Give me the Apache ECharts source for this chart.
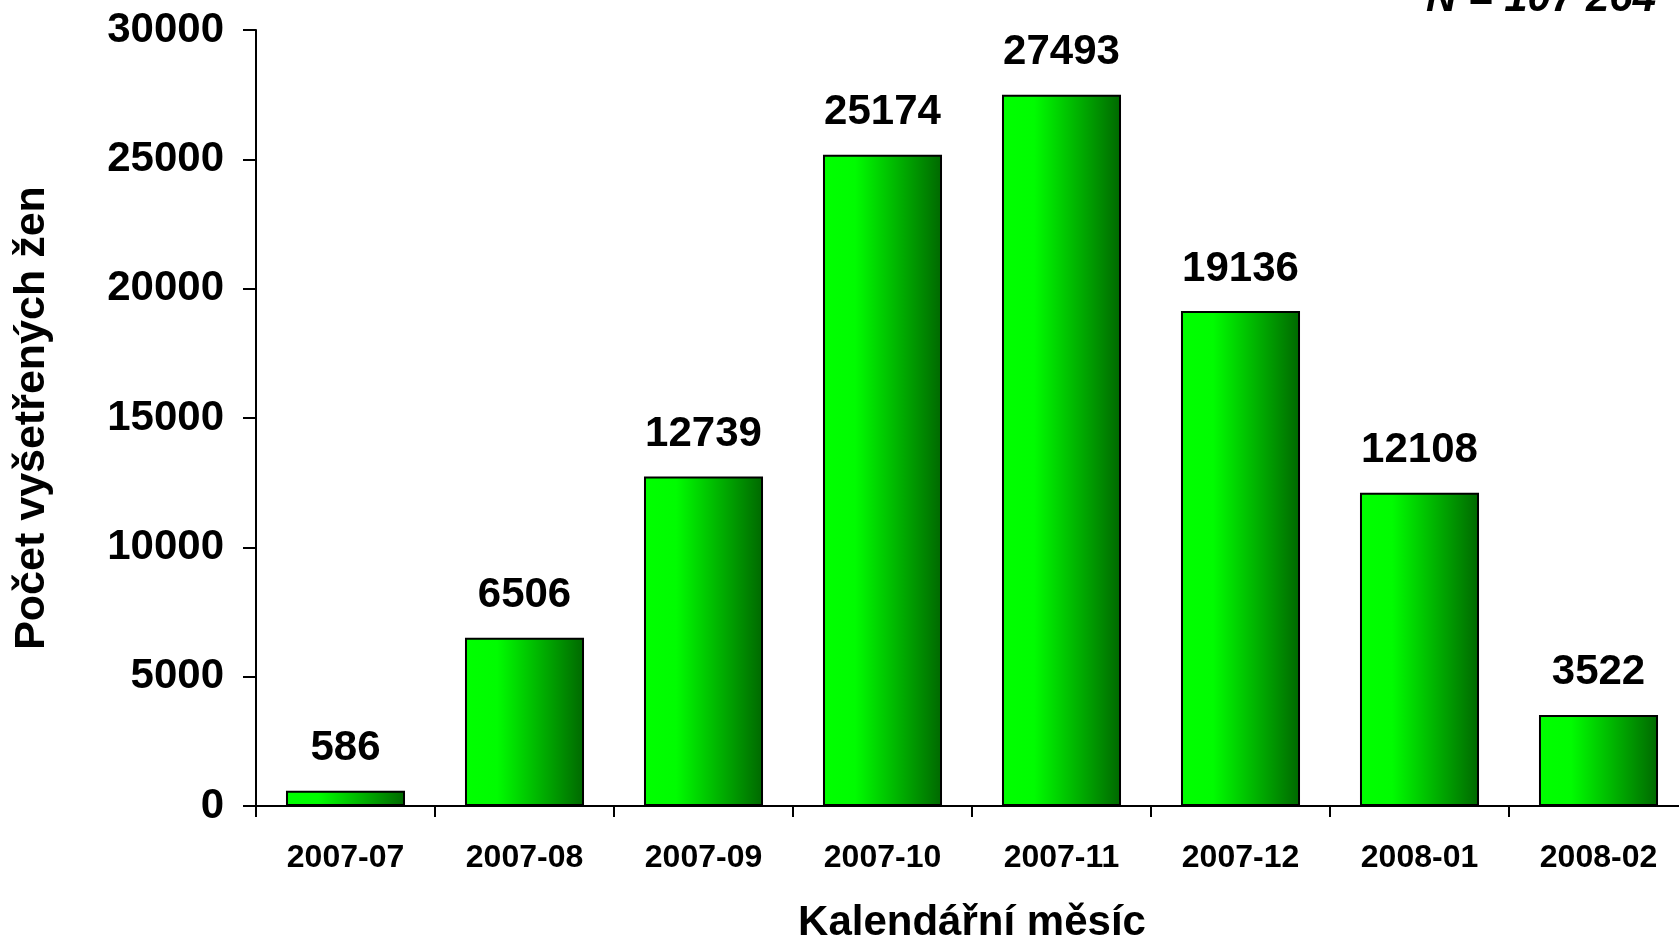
<!DOCTYPE html>
<html>
<head>
<meta charset="utf-8">
<script src="https://cdn.jsdelivr.net/npm/echarts@6/dist/echarts.min.js"></script>
<style>html,body{margin:0;padding:0;background:#fff}#c{width:1679px;height:940px}</style>
</head>
<body>
<div id="c"></div>
<script>
const categories = ['2007-07','2007-08','2007-09','2007-10','2007-11','2007-12','2008-01','2008-02'];
const values = [586, 6506, 12739, 25174, 27493, 19136, 12108, 3522];
const yTicks = [0, 5000, 10000, 15000, 20000, 25000, 30000];
const totalLabel = 'N = 107 264';
const xTitle = 'Kalendářní měsíc';
const yTitle = 'Počet vyšetřených žen';

const FONT = '"Liberation Sans", Arial, sans-serif';
const chart = echarts.init(document.getElementById('c'), null, {renderer: 'canvas'});
chart.setOption({
  animation: false,
  backgroundColor: '#fff',
  title: {
    text: totalLabel,
    left: 1421,
    top: -27,
    textStyle: {fontFamily: FONT, fontSize: 42, fontWeight: 'bold', fontStyle: 'italic', color: '#000'}
  },
  grid: {left: 256, top: 30, width: 1432, height: 776, containLabel: false, outerBoundsMode: 'none'},
  xAxis: {
    type: 'category',
    data: categories,
    boundaryGap: true,
    name: xTitle,
    nameLocation: 'middle',
    nameGap: 96,
    nameTextStyle: {fontFamily: FONT, fontSize: 42, fontWeight: 'bold', color: '#000'},
    axisLine: {lineStyle: {color: '#000', width: 2}},
    axisTick: {show: true, alignWithLabel: false, length: 11, lineStyle: {color: '#000', width: 2}},
    axisLabel: {fontFamily: FONT, fontSize: 32, fontWeight: 'bold', color: '#000', margin: 36, interval: 0}
  },
  yAxis: {
    type: 'value',
    min: yTicks[0],
    max: yTicks[yTicks.length - 1],
    interval: yTicks[1] - yTicks[0],
    name: yTitle,
    nameLocation: 'middle',
    nameGap: 202,
    nameRotate: 90,
    nameTextStyle: {fontFamily: FONT, fontSize: 43, fontWeight: 'bold', color: '#000'},
    axisLine: {show: true, lineStyle: {color: '#000', width: 2}},
    axisTick: {show: true, length: 13, lineStyle: {color: '#000', width: 2}},
    splitLine: {show: false},
    axisLabel: {fontFamily: FONT, fontSize: 42, fontWeight: 'bold', color: '#000', margin: 32,
      formatter: v => String(v)}
  },
  series: [{
    type: 'bar',
    data: values,
    barCategoryGap: '33.5%',
    itemStyle: {
      borderColor: '#000',
      borderWidth: 2,
      color: new echarts.graphic.LinearGradient(0, 0, 1, 0, [
        {offset: 0, color: '#00ff00'},
        {offset: 0.27, color: '#00fc00'},
        {offset: 1, color: '#006800'}
      ])
    },
    label: {
      show: true,
      position: 'top',
      distance: 21,
      fontFamily: FONT,
      fontSize: 42,
      fontWeight: 'bold',
      color: '#000'
    }
  }]
});
</script>
</body>
</html>
